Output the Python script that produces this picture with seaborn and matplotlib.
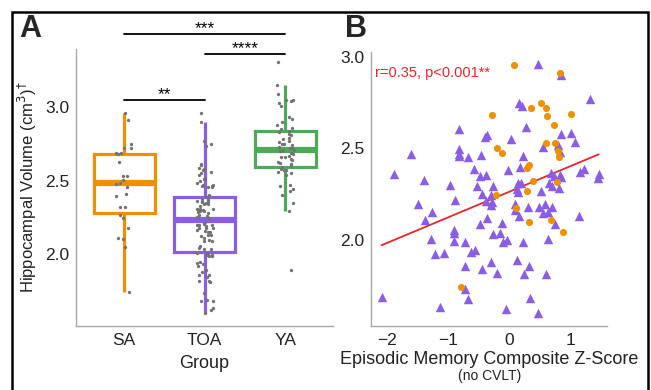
import numpy as np
import pandas as pd
import matplotlib
matplotlib.use("Agg")
import matplotlib.pyplot as plt
import seaborn as sns
from matplotlib.patches import Rectangle

sns.set_style("white")
plt.rcParams['font.family'] = ['Liberation Sans', 'DejaVu Sans']

# ---- data ----
groups = ["SA", "TOA", "YA"]
colors = {"SA": "#EE9000", "TOA": "#8A5CE8", "YA": "#4EAA58"}

sa_z = [0.08, 0.84, -0.28, 0.36, 0.53, 0.61, 0.62, 0.73, 1.02, -0.19, -0.12, 0.60, 0.76,
        0.81, 0.82, 0.32, 0.30, 0.39, 0.79, -0.22, 0.29, 0.115, 0.32, 0.68, 0.88, -0.78]
sa_vol = [2.958, 2.912, 2.685, 2.722, 2.747, 2.723, 2.680, 2.626, 2.687, 2.504, 2.476, 2.531, 2.531,
          2.485, 2.454, 2.412, 2.392, 2.320, 2.319, 2.247, 2.267, 2.176, 2.100, 2.112, 2.046, 1.744]

toa_z = [-0.82, -0.825, -0.82, -0.82, -1.61, -0.67, -0.46, -0.39, -0.36, -1.89, -0.57, -0.48,
         -0.38, -1.39, -0.97, -0.53,
         0.47, 0.85, 1.32, 0.16, 0.21, 0.27, 0.03, 0.86, 1.02, 1.08, 0.80, 0.84, 0.55, 0.23,
         -0.02, 0.185, 0.69, 0.73, 0.83, 0.86, 1.16, 1.23, 1.47, 1.46, 0.14, 0.195, 0.66,
         -0.27, 0.13, 0.14, -0.30, -0.28, -0.30, 0.09, 0.10, 0.31, 0.52, 0.71, 0.82, 0.49,
         0.59, 0.70, 0.55, 0.64, 0.17, -0.36, 0.76, 1.15, -0.11, -0.26, -0.15, -0.10, -0.03,
         0.23, 0.64, -0.30, 0.13, 0.32, -0.19, 0.25, 0.61, 0.34, -0.05, 0.48,
         -0.44, -0.89, -1.49, -1.27, -1.37, -0.48, -0.91, -0.91, -1.28, -0.90, -0.72, -1.21,
         -1.07, -0.63, -0.56, -0.72, -0.45, -0.73, -0.68, -2.09, -1.14, -0.37]
toa_vol = [2.608, 2.499, 2.468, 2.457, 2.472, 2.454, 2.463, 2.561, 2.575, 2.363, 2.390, 2.350,
           2.357, 2.326, 2.302, 2.295,
           2.962, 2.900, 2.770, 2.746, 2.734, 2.616, 2.550, 2.579, 2.586, 2.536, 2.518, 2.481,
           2.509, 2.460, 2.380, 2.400, 2.367, 2.351, 2.356, 2.342, 2.374, 2.387, 2.363, 2.338,
           2.309, 2.310, 2.309,
           2.295, 2.280, 2.260, 2.246, 2.206, 2.191, 2.197, 2.166, 2.179, 2.269, 2.297, 2.285,
           2.180, 2.197, 2.180, 2.150, 2.155, 2.130, 2.122, 2.090, 2.133, 2.093, 2.033, 2.036,
           1.989, 2.002, 1.989, 2.007, 1.878, 1.892, 1.856, 1.818, 1.816, 1.813, 1.683, 1.621,
           1.601,
           2.250, 2.220, 2.197, 2.151, 2.111, 2.089, 2.056, 2.040, 2.004, 1.995, 1.991, 1.922,
           1.929, 1.936, 1.947, 1.860, 1.841, 1.734, 1.678, 1.689, 1.634, 2.212]

ya_vol = [3.31, 3.15, 3.09, 3.05, 3.05, 3.04, 3.03, 3.01, 2.93, 2.92, 2.90, 2.88, 2.86, 2.85,
          2.84, 2.83, 2.82, 2.81, 2.79, 2.78, 2.77, 2.76, 2.75, 2.75, 2.74, 2.73, 2.72, 2.72,
          2.71, 2.71, 2.70, 2.70, 2.69, 2.68, 2.67, 2.66, 2.66, 2.65, 2.64, 2.63, 2.62, 2.61,
          2.60, 2.59, 2.58, 2.57, 2.57, 2.56, 2.55, 2.54, 2.47, 2.46, 2.44, 2.43, 2.40, 2.35,
          2.29, 1.89]

vol = pd.DataFrame({
    "Group": ["SA"] * len(sa_vol) + ["TOA"] * len(toa_vol) + ["YA"] * len(ya_vol),
    "Volume": sa_vol + toa_vol + ya_vol,
})
mem = pd.DataFrame({
    "Group": ["TOA"] * len(toa_z) + ["SA"] * len(sa_z),
    "Z": toa_z + sa_z,
    "Volume": toa_vol + sa_vol,
})

# significance brackets: (left group, right group, height, label)
brackets = [("SA", "YA", 3.50, "***"), ("TOA", "YA", 3.365, "****"), ("SA", "TOA", 3.05, "**")]

fig = plt.figure(figsize=(6.51, 3.9), dpi=100)
axA = fig.add_axes([0.1167, 0.164, 0.395, 0.710])
axB = fig.add_axes([0.570, 0.164, 0.3625, 0.7026])

grey = "#a8a8a8"
txt = "#222222"

# ---- panel A ----
for g in groups:
    c = colors[g]
    sub = vol[vol.Group == g]
    sns.boxplot(data=sub, x="Group", y="Volume", order=groups, ax=axA, width=0.76,
                showfliers=False, showcaps=False,
                boxprops=dict(facecolor="white", edgecolor=c, linewidth=2.3),
                whiskerprops=dict(color=c, linewidth=2.3),
                medianprops=dict(color=c, linewidth=4.5))
np.random.seed(3)
sns.stripplot(data=vol, x="Group", y="Volume", order=groups, ax=axA, color="#737373",
              size=2.4, jitter=0.11, linewidth=0, zorder=5)

axA.set_ylim(1.51, 3.395)
axA.set_xlim(-0.6, 2.596)
axA.set_yticks([2.0, 2.5, 3.0])
axA.set_xlabel("Group", fontsize=13, color=txt, labelpad=5)
axA.set_ylabel("Hippocampal Volume (cm$^3$)$^{\u2020}$", fontsize=12, color=txt, labelpad=4)

for a, b, h, lab in brackets:
    i, j = groups.index(a), groups.index(b)
    axA.plot([i, j], [h, h], color="black", lw=1.3, clip_on=False)
    axA.text((i + j) / 2, h + 0.004, lab, ha="center", va="baseline", fontsize=12.5,
             color="black", clip_on=False)

# ---- panel B ----
sns.regplot(data=mem, x="Z", y="Volume", ax=axB, scatter=False, ci=None,
            color="#E8262A", line_kws=dict(lw=1.3))
sub = mem[mem.Group == "TOA"]
axB.scatter(sub.Z, sub.Volume, marker="^", s=46, color=colors["TOA"], linewidths=0, zorder=3)
sub = mem[mem.Group == "SA"]
axB.scatter(sub.Z, sub.Volume, marker="o", s=26, color=colors["SA"], linewidths=0, zorder=4)

axB.set_xlim(-2.262, 1.607)
axB.set_ylim(1.53, 3.027)
axB.set_xticks([-2, -1, 0, 1])
axB.set_yticks([2.0, 2.5, 3.0])
axB.set_ylabel("")
axB.set_xlabel("Episodic Memory Composite Z-Score", fontsize=13, color=txt, labelpad=2)
axB.text(-2.2, 2.91, "r=0.35, p<0.001**", color="#E8262A", fontsize=10.5, va="center")
fig.text(490 / 651, 1 - 376 / 390, "(no CVLT)", ha="center", va="center", fontsize=10, color=txt)

for ax in (axA, axB):
    sns.despine(ax=ax)
    for s in ("left", "bottom"):
        ax.spines[s].set_color(grey)
        ax.spines[s].set_linewidth(1.0)
    ax.tick_params(axis="both", length=3, color=grey, labelsize=12.5, labelcolor=txt, pad=2)

fig.text(0.030, 0.905, "A", fontsize=22, fontweight="bold")
fig.text(0.530, 0.905, "B", fontsize=22, fontweight="bold")

fig.patches.append(Rectangle((12 / 651, -0.1), 636 / 651, 1.1 - 12 / 390, transform=fig.transFigure,
                             fill=False, edgecolor="black", lw=1.8, clip_on=False))

fig.savefig("out.png", dpi=100)
